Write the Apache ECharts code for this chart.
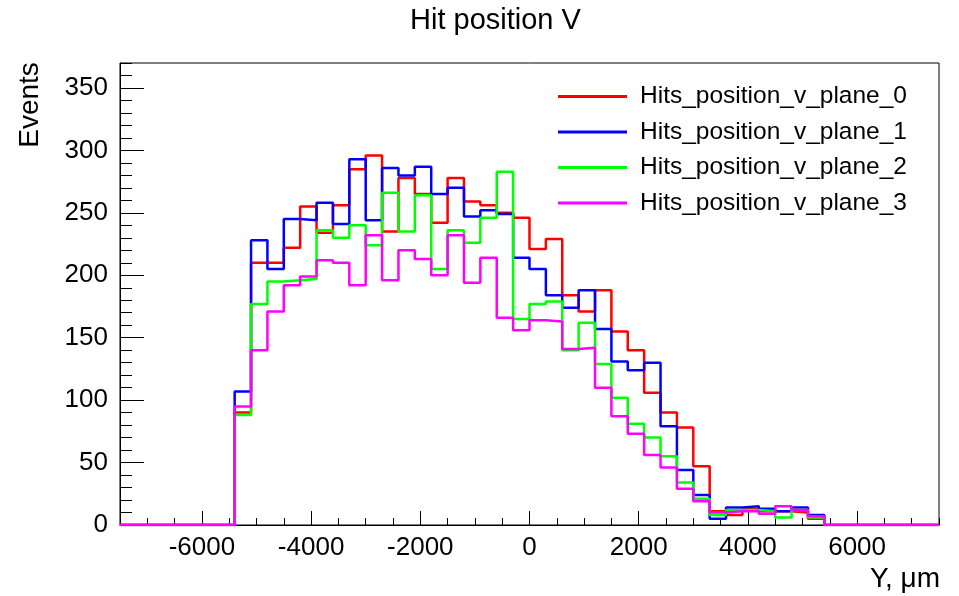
<!DOCTYPE html>
<html>
<head>
<meta charset="utf-8">
<script src="https://cdn.jsdelivr.net/npm/echarts@6/dist/echarts.min.js"></script>
<style>
html,body{margin:0;padding:0;background:#fff;}
#chart{width:959px;height:596px;}
</style>
</head>
<body>
<div id="chart"></div>
<script>
// Histogram binning: 50 bins of width 300 from -7500 to 7500
const xMin = -7500;
const xMax = 7500;
const binWidth = 300;

const seriesNames = ["Hits_position_v_plane_0", "Hits_position_v_plane_1", "Hits_position_v_plane_2", "Hits_position_v_plane_3"];
const seriesColors = ["#ff0000", "#0000ff", "#00ff00", "#ff00ff"];

// Bin contents (50 bins each)
const plane0 = [0,0,0,0,0,0,0,
  90,210,210,222,255,234,256,285,296,235,278,265,242,278,259,256,250,246,
  221,229,184,171,188,155,140,106,90,78,47,11,8,13,11,11,10,5,
  0,0,0,0,0,0,0];
const plane1 = [0,0,0,0,0,0,0,
  107,228,205,245,244,258,241,293,244,286,280,287,265,270,247,252,249,214,
  205,184,174,188,157,131,124,130,79,44,24,5,14,15,13,11,14,8,
  0,0,0,0,0,0,0];
const plane2 = [0,0,0,0,0,0,0,
  88,177,195,196,197,236,230,240,224,266,235,264,205,236,226,246,283,165,
  177,179,140,162,129,102,81,70,55,34,21,8,12,12,11,6,12,6,
  0,0,0,0,0,0,0];
const plane3 = [0,0,0,0,0,0,0,
  95,140,171,192,199,212,210,192,232,196,220,213,200,232,194,214,166,156,
  164,163,141,142,110,87,73,56,46,29,19,10,11,11,9,15,12,7,
  0,0,0,0,0,0,0];

const xLabelValues = [-6000, -4000, -2000, 0, 2000, 4000, 6000];
const xMinorValues = [];
for (let v = -7500; v <= 7500; v += 500) xMinorValues.push(v);
const yLabelValues = [0, 50, 100, 150, 200, 250, 300, 350];
const yMax = 370;
const yMinorValues = [];
for (let v = 0; v <= 370; v += 10) yMinorValues.push(v);

const allPlanes = [plane0, plane1, plane2, plane3];

function histToSteps(counts) {
  const pts = [];
  for (let i = 0; i < counts.length; i++) {
    pts.push([xMin + i * binWidth, counts[i]]);
  }
  pts.push([xMin + counts.length * binWidth, counts[counts.length - 1]]);
  return pts;
}

const FONT = "Liberation Sans, Arial, Helvetica, sans-serif";

const chart = echarts.init(document.getElementById('chart'), null, {renderer: 'canvas'});

const option = {
  animation: false,
  backgroundColor: '#ffffff',
  textStyle: {fontFamily: FONT},
  grid: {
    left: 120, right: 20, top: 63, bottom: 71,
    show: true, borderColor: '#000', borderWidth: 1, backgroundColor: 'transparent'
  },
  legend: {
    orient: 'vertical',
    left: 558,
    top: 84,
    padding: 0,
    icon: 'rect',
    itemWidth: 69,
    itemHeight: 3,
    itemGap: 10.5,
    data: seriesNames,
    textStyle: {fontFamily: FONT, fontSize: 24.5, color: '#000', lineHeight: 24.5, padding: [0, 0, 0, 8]}
  },
  graphic: [
    {type: 'text', left: 410, top: 6, style: {text: 'Hit position V', font: '29px ' + FONT, fill: '#000'}},
    {type: 'text', x: 30, y: 105, rotation: Math.PI / 2,
      style: {text: 'Events', font: '28px ' + FONT, fill: '#000', align: 'center', verticalAlign: 'middle'}},
    {type: 'text', x: 940, y: 579,
      style: {text: 'Y, \u03bcm', font: '28px ' + FONT, fill: '#000', align: 'right', verticalAlign: 'middle'}}
  ],
  xAxis: [
    {
      type: 'value', min: xMin, max: xMax, position: 'bottom',
      axisLine: {show: true, onZero: false, lineStyle: {color: '#000', width: 1}},
      axisTick: {show: true, inside: true, length: 14, customValues: xLabelValues, lineStyle: {color: '#000'}},
      axisLabel: {show: true, customValues: xLabelValues, color: '#000', fontSize: 26, fontFamily: FONT, margin: 10,
        formatter: (v) => String(v)},
      splitLine: {show: false}
    },
    {
      type: 'value', min: xMin, max: xMax, position: 'bottom', offset: 0,
      axisLine: {show: false, onZero: false},
      axisTick: {show: true, inside: true, length: 7, customValues: xMinorValues, lineStyle: {color: '#000'}},
      axisLabel: {show: false},
      splitLine: {show: false}
    }
  ],
  yAxis: [
    {
      type: 'value', min: 0, max: yMax, position: 'left',
      axisLine: {show: true, onZero: false, lineStyle: {color: '#000', width: 1}},
      axisTick: {show: true, inside: true, length: 24, customValues: yLabelValues, lineStyle: {color: '#000'}},
      axisLabel: {show: true, customValues: yLabelValues, color: '#000', fontSize: 26, fontFamily: FONT, margin: 12,
        formatter: (v) => String(v)},
      splitLine: {show: false}
    },
    {
      type: 'value', min: 0, max: yMax, position: 'left', offset: 0,
      axisLine: {show: false, onZero: false},
      axisTick: {show: true, inside: true, length: 12, customValues: yMinorValues, lineStyle: {color: '#000'}},
      axisLabel: {show: false},
      splitLine: {show: false}
    }
  ],
  series: allPlanes.map((counts, k) => ({
    name: seriesNames[k],
    type: 'line',
    step: 'end',
    xAxisIndex: 0,
    yAxisIndex: 0,
    showSymbol: false,
    symbol: 'none',
    color: seriesColors[k],
    lineStyle: {color: seriesColors[k], width: 2.5},
    itemStyle: {color: seriesColors[k]},
    data: histToSteps(counts),
    z: 2 + k
  }))
};

chart.setOption(option);
</script>
</body>
</html>
